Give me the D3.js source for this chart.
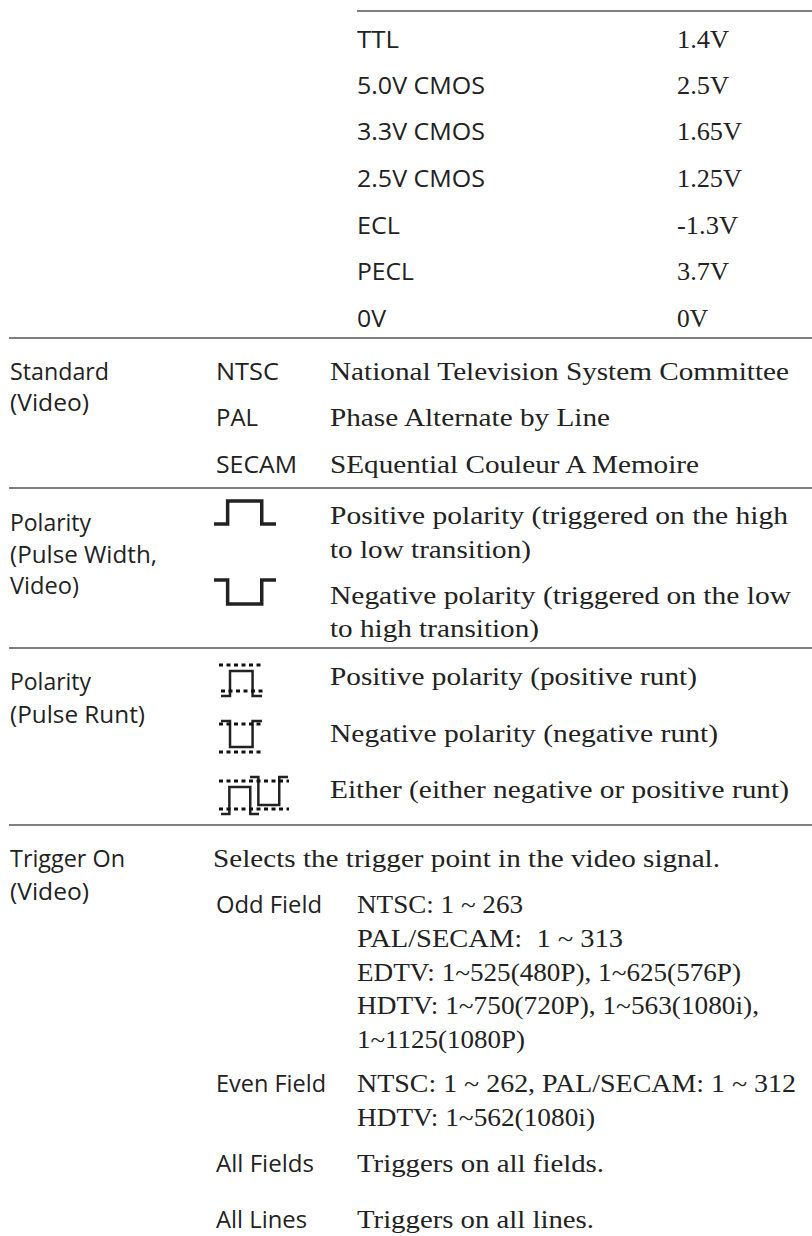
<!DOCTYPE html>
<html>
<head>
<meta charset="utf-8">
<script src="https://cdn.jsdelivr.net/npm/d3@7"></script>
<style>
  html, body { margin: 0; background: #fff; }
  text { fill: #222; }
  .sans { font-family: "Open Sans", sans-serif; font-size: 23.5px; }
  .serif { font-family: "Liberation Serif", serif; font-size: 25px; }
</style>
</head>
<body>
<div id="graph"></div>
<script>
// level table
const levelNames = ["TTL", "5.0V CMOS", "3.3V CMOS", "2.5V CMOS", "ECL", "PECL", "0V"];
const levelValues = ["1.4V", "2.5V", "1.65V", "1.25V", "-1.3V", "3.7V", "0V"];

// left hand headings
const headingLines = ["Standard", "(Video)", "Polarity", "(Pulse Width,", "Video)", "Polarity", "(Pulse Runt)", "Trigger On", "(Video)"];

const standardNames = ["NTSC", "PAL", "SECAM"];
const standardLong = ["National Television System Committee", "Phase Alternate by Line", "SEquential Couleur A Memoire"];

const polarityLines = [
  "Positive polarity (triggered on the high", "to low transition)",
  "Negative polarity (triggered on the low", "to high transition)"
];
const runtLines = ["Positive polarity (positive runt)", "Negative polarity (negative runt)", "Either (either negative or positive runt)"];

const triggerIntro = ["Selects the trigger point in the video signal."];
const fieldNames = ["Odd Field", "Even Field", "All Fields", "All Lines"];
const fieldLines = [
  "NTSC: 1 ~ 263", "PAL/SECAM:  1 ~ 313", "EDTV: 1~525(480P), 1~625(576P)",
  "HDTV: 1~750(720P), 1~563(1080i),", "1~1125(1080P)",
  "NTSC: 1 ~ 262, PAL/SECAM: 1 ~ 312", "HDTV: 1~562(1080i)",
  "Triggers on all fields.", "Triggers on all lines."
];

// waveform shapes: [time, level]
const pulseUp = [[0, 0], [0.22, 0], [0.22, 1], [0.77, 1], [0.77, 0], [1, 0]];
const pulseDown = [[0, 1], [0.22, 1], [0.22, 0], [0.77, 0], [0.77, 1], [1, 1]];

const width = 812, height = 1236;

const svg = d3.select("#graph").append("svg")
  .attr("width", width).attr("height", height)
  .style("display", "block");

const rules = svg.append("g").attr("stroke", "#808080").attr("stroke-width", 2);
[[357, 11], [9, 338], [9, 488], [9, 648], [9, 825]].forEach(r => {
  rules.append("line").attr("x1", r[0]).attr("x2", width).attr("y1", r[1]).attr("y2", r[1]);
});

// ys = baselines, ends = right edge of each line
function put(cls, x, lines, ys, ends) {
  svg.append("g").selectAll("text").data(lines).enter().append("text")
    .attr("class", cls)
    .attr("x", x)
    .attr("y", (d, i) => ys[i])
    .style("white-space", "pre")
    .text(d => d)
    .attr("lengthAdjust", "spacingAndGlyphs")
    .attr("textLength", (d, i) => ends[i] - x);
}

const levelRows = [48, 94, 140, 187, 234, 280, 327];
put("sans", 357, levelNames, levelRows, [399, 485, 485, 485, 400, 414, 386]);
put("serif", 677, levelValues, levelRows, [729, 729, 742, 742, 738, 729, 708]);

put("sans", 10, headingLines, [380, 411, 531, 563, 594, 690, 723, 867, 900],
  [109, 89, 91, 157, 79, 91, 145, 125, 89]);
put("sans", 216, standardNames, [380, 426, 473], [279, 258, 297]);
put("serif", 330, standardLong, [380, 426, 473], [789, 610, 699]);

put("serif", 330, polarityLines, [524, 558, 604, 637], [788, 531, 791, 539]);
put("serif", 330, runtLines, [685, 742, 798], [697, 718, 789]);
put("serif", 213, triggerIntro, [867], [720]);

put("sans", 216, fieldNames, [913, 1092, 1172, 1228], [322, 326, 314, 307]);
put("serif", 357, fieldLines, [913, 947, 981, 1014, 1048, 1092, 1126, 1172, 1228],
  [523, 623, 741, 759, 525, 796, 595, 604, 594]);

// waveforms
const dark = "#222";
function wave(points, x0, x1, yLow, yHigh, w) {
  const x = d3.scaleLinear().domain([0, 1]).range([x0, x1]);
  const y = d3.scaleLinear().domain([0, 1]).range([yLow, yHigh]);
  const line = d3.line().x(d => x(d[0])).y(d => y(d[1]));
  svg.append("path").attr("d", line(points))
    .attr("fill", "none").attr("stroke", dark).attr("stroke-width", w);
}
function dashes(x0, x1, yy) {
  svg.append("line").attr("x1", x0).attr("x2", x1).attr("y1", yy).attr("y2", yy)
    .attr("stroke", "#111").attr("stroke-width", 3).attr("stroke-dasharray", "4 3.5");
}

wave(pulseUp, 214, 276, 524, 501, 3.5);
wave(pulseDown, 214, 276, 604, 580, 3.5);

wave(pulseUp, 221, 262, 696, 671, 2.5);
dashes(219, 263, 665);
dashes(221, 263, 691);

wave(pulseDown, 221, 262, 747, 721, 2.5);
dashes(219, 263, 724);
dashes(219, 263, 752);

wave(pulseUp, 221, 259, 814, 787, 2.5);
wave(pulseDown, 250, 288, 805, 777, 2.5);
dashes(219, 289, 781);
dashes(219, 289, 809);
</script>
</body>
</html>
